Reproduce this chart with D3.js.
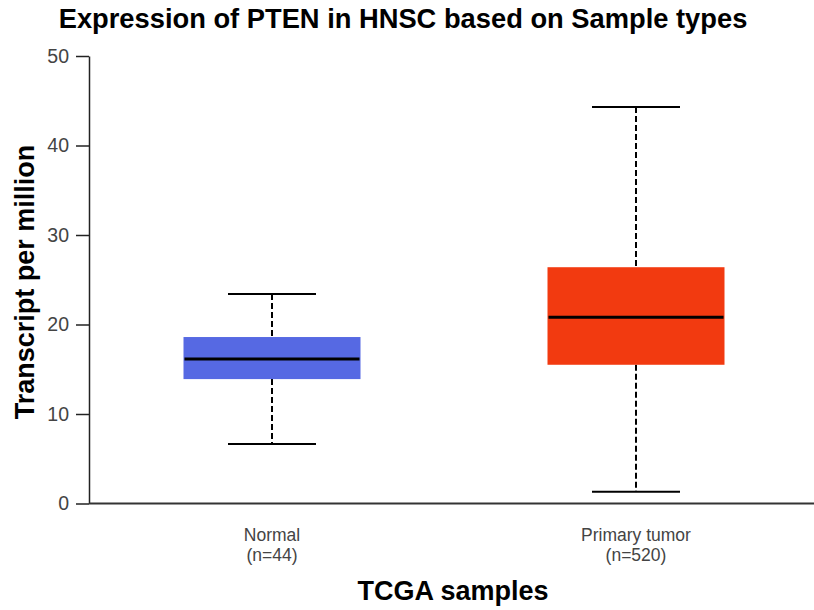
<!DOCTYPE html>
<html>
<head>
<meta charset="utf-8">
<script src="https://cdn.jsdelivr.net/npm/d3@7"></script>
<style>
  body { margin: 0; background: #fff; }
  svg { display: block; font-family: "Liberation Sans", Arial, sans-serif; }
</style>
</head>
<body>
<svg width="814" height="610"></svg>
<script>
// box stats (TPM)
const groups = ["Normal", "Primary tumor"];
const counts = [44, 520];
const colors = ["#5669e3", "#f23a10"];
const whiskerLow = [6.65, 1.3];
const q1 = [13.9, 15.5];
const median = [16.15, 20.8];
const q3 = [18.6, 26.4];
const whiskerHigh = [23.4, 44.3];
const yTicks = [0, 10, 20, 30, 40, 50];

const svg = d3.select("svg");

const x = d3.scalePoint().domain(groups).range([90, 818]).padding(0.5);
const y = d3.scaleLinear().domain([0, 50]).range([503.5, 56]);
const boxW = 177, capW = 88;

// axes
const yAxis = svg.append("g").attr("transform", "translate(89,0)")
  .call(d3.axisLeft(y).tickValues(yTicks).tickSize(13).tickSizeOuter(0).tickPadding(7));
yAxis.select(".domain").attr("stroke", "#222").attr("stroke-width", 1.5);
yAxis.selectAll(".tick line").attr("stroke", "#222").attr("stroke-width", 1.5);
yAxis.selectAll("text").attr("font-size", 19.5).attr("fill", "#444").attr("font-family", "Liberation Sans, Arial, sans-serif");

svg.append("line").attr("x1", 89).attr("x2", 814).attr("y1", y(0)).attr("y2", y(0))
  .attr("stroke", "#333").attr("stroke-width", 2);

// boxes
const data = groups.map((g, i) => ({
  g, n: counts[i], c: colors[i], lo: whiskerLow[i], q1: q1[i], med: median[i], q3: q3[i], hi: whiskerHigh[i]
}));

const box = svg.selectAll(".box").data(data).enter().append("g").attr("class", "box");

box.append("line").attr("x1", d => x(d.g)).attr("x2", d => x(d.g))
  .attr("y1", d => y(d.hi)).attr("y2", d => y(d.q3))
  .attr("stroke", "#000").attr("stroke-width", 2).attr("stroke-dasharray", "6,3");
box.append("line").attr("x1", d => x(d.g)).attr("x2", d => x(d.g))
  .attr("y1", d => y(d.q1)).attr("y2", d => y(d.lo))
  .attr("stroke", "#000").attr("stroke-width", 2).attr("stroke-dasharray", "6,3");

box.append("line").attr("x1", d => x(d.g) - capW / 2).attr("x2", d => x(d.g) + capW / 2)
  .attr("y1", d => y(d.hi)).attr("y2", d => y(d.hi)).attr("stroke", "#000").attr("stroke-width", 2);
box.append("line").attr("x1", d => x(d.g) - capW / 2).attr("x2", d => x(d.g) + capW / 2)
  .attr("y1", d => y(d.lo)).attr("y2", d => y(d.lo)).attr("stroke", "#000").attr("stroke-width", 2);

box.append("rect").attr("x", d => x(d.g) - boxW / 2).attr("width", boxW)
  .attr("y", d => y(d.q3)).attr("height", d => y(d.q1) - y(d.q3))
  .attr("fill", d => d.c);

box.append("line").attr("x1", d => x(d.g) - boxW / 2 + 1).attr("x2", d => x(d.g) + boxW / 2 - 1)
  .attr("y1", d => y(d.med)).attr("y2", d => y(d.med)).attr("stroke", "#000").attr("stroke-width", 3);

// category labels
const lab = svg.selectAll(".cat").data(data).enter().append("text").attr("class", "cat")
  .attr("x", d => x(d.g)).attr("y", 541).attr("text-anchor", "middle")
  .attr("font-size", 17.5).attr("fill", "#444");
lab.append("tspan").attr("x", d => x(d.g)).text(d => d.g);
lab.append("tspan").attr("x", d => x(d.g)).attr("dy", 20).text(d => "(n=" + d.n + ")");

// titles
svg.append("text").attr("x", 403).attr("y", 28).attr("text-anchor", "middle")
  .attr("font-size", 27.3).attr("font-weight", "bold").attr("fill", "#000")
  .text("Expression of PTEN in HNSC based on Sample types");

svg.append("text").attr("x", 453).attr("y", 600).attr("text-anchor", "middle")
  .attr("font-size", 27).attr("font-weight", "bold").attr("fill", "#000")
  .text("TCGA samples");

svg.append("text").attr("transform", "translate(34,282) rotate(-90)").attr("text-anchor", "middle")
  .attr("font-size", 27).attr("font-weight", "bold").attr("fill", "#000")
  .text("Transcript per million");
</script>
</body>
</html>
